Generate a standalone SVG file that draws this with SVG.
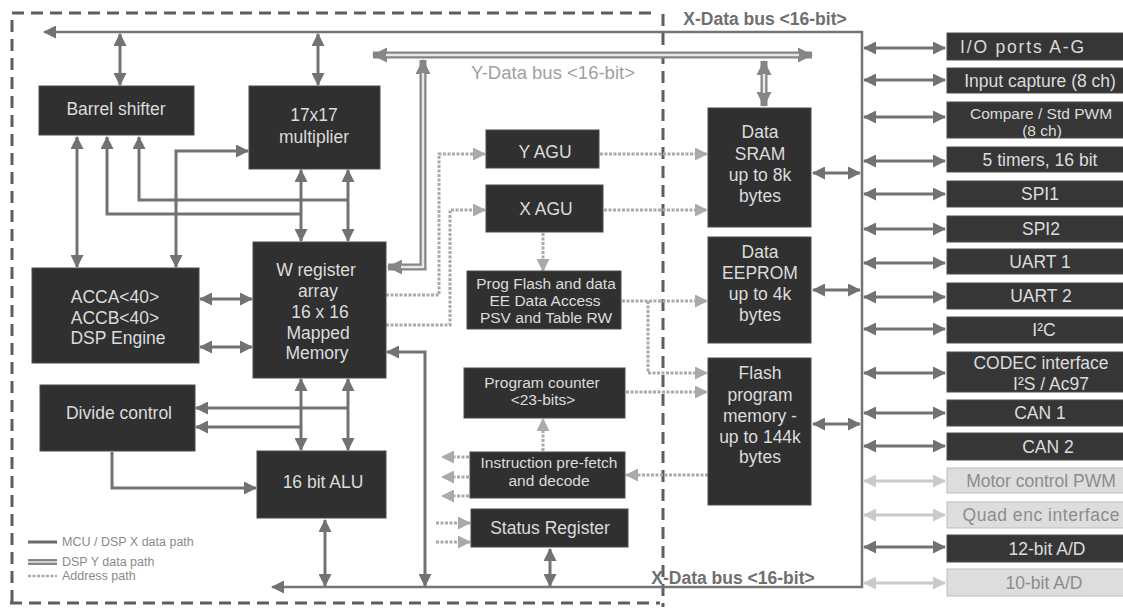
<svg xmlns="http://www.w3.org/2000/svg" width="1123" height="609" viewBox="0 0 1123 609">
<style>
text{font-family:"Liberation Sans",Arial,sans-serif;text-anchor:middle;dominant-baseline:central}
.box{fill:#303030;stroke:#4a4a4a;stroke-width:1}
.pbox{fill:#363636;stroke:#4a4a4a;stroke-width:1}
.fbox{fill:#dddddd;stroke:#bdbdbd;stroke-width:1}
.t{fill:#dcdcdc;font-size:17.5px}
.ts{fill:#dcdcdc;font-size:15.5px}
.tf{fill:#8c8c8c;font-size:17.5px}
.c{fill:none;stroke:#727272;stroke-width:3}
.bus{fill:none;stroke:#747474;stroke-width:2.5}
.ad{fill:none;stroke:#aaaaaa;stroke-width:3;stroke-dasharray:3 1.5}
.fa{fill:none;stroke:#cacaca;stroke-width:3}
.yo{fill:none;stroke:#868686;stroke-width:7}
.yi{fill:none;stroke:#e8e8e8;stroke-width:2.5}
.bd{fill:none;stroke:#5e5e5e;stroke-width:3;stroke-dasharray:12 7}
.lg{fill:#8a8a8a;font-size:12.5px;text-anchor:start}
</style>
<defs>
<marker id="a" viewBox="0 0 13 13" refX="12" refY="6.5" markerWidth="13" markerHeight="13" markerUnits="userSpaceOnUse" orient="auto-start-reverse"><path d="M0,0 L13,6.5 L0,13 z" fill="#727272"/></marker>
<marker id="d" viewBox="0 0 13 13" refX="12" refY="6.5" markerWidth="13" markerHeight="13" markerUnits="userSpaceOnUse" orient="auto-start-reverse"><path d="M0,0 L13,6.5 L0,13 z" fill="#aaaaaa"/></marker>
<marker id="f" viewBox="0 0 13 13" refX="12" refY="6.5" markerWidth="13" markerHeight="13" markerUnits="userSpaceOnUse" orient="auto-start-reverse"><path d="M0,0 L13,6.5 L0,13 z" fill="#cacaca"/></marker>
<marker id="y" viewBox="0 0 15 15" refX="14" refY="7.5" markerWidth="15" markerHeight="15" markerUnits="userSpaceOnUse" orient="auto-start-reverse"><path d="M0,0 L15,7.5 L0,15 z" fill="#868686"/></marker>
</defs>
<rect width="1123" height="609" fill="#ffffff"/>

<!-- dashed boundary -->
<g id="boundary">
<path class="bd" d="M12,602 V13 H656"/>
<path class="bd" d="M10,603 H660"/>
<path class="bd" d="M663,14 V607"/>
</g>

<!-- bus labels -->
<text x="765" y="19" style="fill:#6e6e6e;font-size:17.5px;font-weight:bold">X-Data bus &lt;16-bit&gt;</text>
<text x="553" y="72" style="fill:#a0a0a0;font-size:18.5px">Y-Data bus &lt;16-bit&gt;</text>
<text x="733" y="578" style="fill:#6e6e6e;font-size:17.5px;font-weight:bold">X-Data bus &lt;16-bit&gt;</text>

<g id="connectors">
<!-- X data bus -->
<path class="bus" d="M44,32 H862 V587 H272" marker-start="url(#a)" marker-end="url(#a)"/>
<!-- Y data bus -->
<path class="yo" d="M373,55 H812" marker-start="url(#y)" marker-end="url(#y)"/>
<path class="yi" d="M386,55 H799"/>
<path class="yo" d="M423,60 V267 H388" marker-start="url(#y)" marker-end="url(#y)"/>
<path class="yi" d="M423,73 V267 H401"/>
<path class="yo" d="M764,61 V106" marker-start="url(#y)" marker-end="url(#y)"/>
<path class="yi" d="M764,74 V93"/>
<!-- solid data paths -->
<path class="c" d="M120,34 V85" marker-start="url(#a)" marker-end="url(#a)"/>
<path class="c" d="M318,34 V85" marker-start="url(#a)" marker-end="url(#a)"/>
<path class="c" d="M77,137 V267" marker-start="url(#a)" marker-end="url(#a)"/>
<path class="c" d="M107,137 V214 H301" marker-start="url(#a)"/>
<path class="c" d="M139,137 V200 H348" marker-start="url(#a)"/>
<path class="c" d="M176,267 V151 H248" marker-start="url(#a)" marker-end="url(#a)"/>
<path class="c" d="M301,170 V241" marker-start="url(#a)" marker-end="url(#a)"/>
<path class="c" d="M348,170 V241" marker-start="url(#a)" marker-end="url(#a)"/>
<path class="c" d="M200,299 H252" marker-start="url(#a)" marker-end="url(#a)"/>
<path class="c" d="M200,347 H252" marker-start="url(#a)" marker-end="url(#a)"/>
<path class="c" d="M301,379 V450" marker-start="url(#a)" marker-end="url(#a)"/>
<path class="c" d="M348,379 V450" marker-start="url(#a)" marker-end="url(#a)"/>
<path class="c" d="M348,408 H196" marker-end="url(#a)"/>
<path class="c" d="M301,427 H196" marker-end="url(#a)"/>
<path class="c" d="M112,452 V488 H256" marker-end="url(#a)"/>
<path class="c" d="M325,520 V586" marker-start="url(#a)" marker-end="url(#a)"/>
<path class="c" d="M387,352 H425 V586" marker-start="url(#a)" marker-end="url(#a)"/>
<path class="c" d="M550,549 V586" marker-start="url(#a)" marker-end="url(#a)"/>
<path class="c" d="M813,173 H860" marker-start="url(#a)" marker-end="url(#a)"/>
<path class="c" d="M813,290 H860" marker-start="url(#a)" marker-end="url(#a)"/>
<path class="c" d="M813,424 H860" marker-start="url(#a)" marker-end="url(#a)"/>
<!-- address paths -->
<path class="ad" d="M386,295 H439 V154 H485" marker-end="url(#d)"/>
<path class="ad" d="M386,325 H450 V210 H485" marker-end="url(#d)"/>
<path class="ad" d="M600,154 H707" marker-end="url(#d)"/>
<path class="ad" d="M604,210 H707" marker-end="url(#d)"/>
<path class="ad" d="M543,233 V271" marker-end="url(#d)"/>
<path class="ad" d="M622,301 H707" marker-end="url(#d)"/>
<path class="ad" d="M648,301 V373 H707" marker-end="url(#d)"/>
<path class="ad" d="M626,392 H707" marker-end="url(#d)"/>
<path class="ad" d="M708,475 H626" marker-end="url(#d)"/>
<path class="ad" d="M543,451 V419" marker-end="url(#d)"/>
<path class="ad" d="M469,457 H442" marker-end="url(#d)"/>
<path class="ad" d="M469,477 H442" marker-end="url(#d)"/>
<path class="ad" d="M469,496 H442" marker-end="url(#d)"/>
<path class="ad" d="M436,523 H470" marker-end="url(#d)"/>
<path class="ad" d="M436,542 H470" marker-end="url(#d)"/>
<!-- peripheral links -->
<path class="c" d="M864,48 H945" marker-start="url(#a)" marker-end="url(#a)"/>
<path class="c" d="M864,80 H945" marker-start="url(#a)" marker-end="url(#a)"/>
<path class="c" d="M864,117 H945" marker-start="url(#a)" marker-end="url(#a)"/>
<path class="c" d="M864,161 H945" marker-start="url(#a)" marker-end="url(#a)"/>
<path class="c" d="M864,194 H945" marker-start="url(#a)" marker-end="url(#a)"/>
<path class="c" d="M864,229 H945" marker-start="url(#a)" marker-end="url(#a)"/>
<path class="c" d="M864,263 H945" marker-start="url(#a)" marker-end="url(#a)"/>
<path class="c" d="M864,297 H945" marker-start="url(#a)" marker-end="url(#a)"/>
<path class="c" d="M864,329 H945" marker-start="url(#a)" marker-end="url(#a)"/>
<path class="c" d="M864,373 H945" marker-start="url(#a)" marker-end="url(#a)"/>
<path class="c" d="M864,413 H945" marker-start="url(#a)" marker-end="url(#a)"/>
<path class="c" d="M864,446 H945" marker-start="url(#a)" marker-end="url(#a)"/>
<path class="fa" d="M864,481 H945" marker-start="url(#f)" marker-end="url(#f)"/>
<path class="fa" d="M864,515 H945" marker-start="url(#f)" marker-end="url(#f)"/>
<path class="c" d="M864,547 H945" marker-start="url(#a)" marker-end="url(#a)"/>
<path class="fa" d="M864,583 H945" marker-start="url(#f)" marker-end="url(#f)"/>
</g>

<!-- core blocks -->
<g id="barrel"><rect class="box" x="39" y="86" width="155" height="49"/><text class="t" x="116" y="109">Barrel shifter</text></g>
<g id="multiplier"><rect class="box" x="249" y="86" width="131" height="83"/><text class="t" x="314" y="115">17x17</text><text class="t" x="314" y="137">multiplier</text></g>
<g id="wreg"><rect class="box" x="253" y="242" width="133" height="136"/>
<text class="t" x="316" y="270">W register</text><text class="t" x="318" y="291">array</text><text class="t" x="320" y="312">16 x 16</text><text class="t" x="318" y="333">Mapped</text><text class="t" x="317" y="353">Memory</text></g>
<g id="acc"><rect class="box" x="32" y="268" width="167" height="95"/>
<text class="t" x="115" y="297">ACCA&lt;40&gt;</text><text class="t" x="115" y="318">ACCB&lt;40&gt;</text><text class="t" x="118" y="338">DSP Engine</text></g>
<g id="divide"><rect class="box" x="40" y="385" width="155" height="66"/><text class="t" x="119" y="413">Divide control</text></g>
<g id="alu"><rect class="box" x="257" y="451" width="129" height="67"/><text class="t" x="323" y="482">16 bit ALU</text></g>
<g id="yagu"><rect class="box" x="486" y="130" width="113" height="38"/><text class="t" x="545" y="152">Y AGU</text></g>
<g id="xagu"><rect class="box" x="486" y="185" width="117" height="47"/><text class="t" x="546" y="209">X AGU</text></g>
<g id="progflash"><rect class="box" x="467" y="271" width="154" height="58"/>
<text class="ts" x="546" y="283">Prog Flash and data</text><text class="ts" x="545" y="300">EE Data Access</text><text class="ts" x="546" y="317">PSV and Table RW</text></g>
<g id="pc"><rect class="box" x="464" y="368" width="161" height="50"/>
<text class="ts" x="542" y="382">Program counter</text><text class="ts" x="543" y="399">&lt;23-bits&gt;</text></g>
<g id="prefetch"><rect class="box" x="470" y="452" width="155" height="46"/>
<text class="ts" x="549" y="462">Instruction pre-fetch</text><text class="ts" x="549" y="480">and decode</text></g>
<g id="status"><rect class="box" x="471" y="509" width="157" height="38"/><text class="t" x="550" y="528">Status Register</text></g>
<g id="sram"><rect class="box" x="708" y="108" width="103" height="119"/>
<text class="t" x="760" y="132">Data</text><text class="t" x="760" y="154">SRAM</text><text class="t" x="760" y="175">up to 8k</text><text class="t" x="760" y="196">bytes</text></g>
<g id="eeprom"><rect class="box" x="708" y="237" width="103" height="106"/>
<text class="t" x="760" y="252">Data</text><text class="t" x="760" y="273">EEPROM</text><text class="t" x="760" y="294">up to 4k</text><text class="t" x="760" y="315">bytes</text></g>
<g id="flash"><rect class="box" x="708" y="358" width="103" height="147"/>
<text class="t" x="760" y="373">Flash</text><text class="t" x="760" y="395">program</text><text class="t" x="760" y="416">memory -</text><text class="t" x="760" y="437">up to 144k</text><text class="t" x="760" y="457">bytes</text></g>

<!-- peripherals -->
<g id="io"><rect class="pbox" x="947" y="33" width="180" height="27"/><text class="t" x="1022" y="46.5" textLength="124" lengthAdjust="spacing">I/O ports A-G</text></g>
<g id="icap"><rect class="pbox" x="947" y="68" width="180" height="25"/><text class="t" x="1040" y="80.5">Input capture (8 ch)</text></g>
<g id="cmp"><rect class="pbox" x="947" y="102" width="180" height="36"/><text class="ts" x="1041" y="113">Compare / Std PWM</text><text class="ts" x="1042" y="130">(8 ch)</text></g>
<g id="timers"><rect class="pbox" x="947" y="147" width="180" height="25"/><text class="t" x="1040" y="159.5">5 timers, 16 bit</text></g>
<g id="spi1"><rect class="pbox" x="947" y="181" width="180" height="26"/><text class="t" x="1040" y="194">SPI1</text></g>
<g id="spi2"><rect class="pbox" x="947" y="216" width="180" height="26"/><text class="t" x="1041" y="229">SPI2</text></g>
<g id="uart1"><rect class="pbox" x="947" y="249" width="180" height="25"/><text class="t" x="1040" y="261.5">UART 1</text></g>
<g id="uart2"><rect class="pbox" x="947" y="283" width="180" height="26"/><text class="t" x="1041" y="296">UART 2</text></g>
<g id="i2c"><rect class="pbox" x="947" y="317" width="180" height="26"/><text class="t" x="1044" y="330">I²C</text></g>
<g id="codec"><rect class="pbox" x="947" y="352" width="180" height="40"/><text class="t" x="1041" y="363">CODEC interface</text><text class="t" x="1051" y="384">I²S / Ac97</text></g>
<g id="can1"><rect class="pbox" x="947" y="400" width="180" height="26"/><text class="t" x="1040" y="413">CAN 1</text></g>
<g id="can2"><rect class="pbox" x="947" y="433" width="180" height="27"/><text class="t" x="1048" y="446.5">CAN 2</text></g>
<g id="motor"><rect class="fbox" x="947" y="468" width="180" height="25"/><text class="tf" x="1041" y="480.5">Motor control PWM</text></g>
<g id="quad"><rect class="fbox" x="947" y="502" width="180" height="26"/><text class="tf" x="1041" y="515" textLength="157" lengthAdjust="spacing">Quad enc interface</text></g>
<g id="ad12"><rect class="pbox" x="947" y="535" width="180" height="27"/><text class="t" x="1047" y="548.5">12-bit A/D</text></g>
<g id="ad10"><rect class="fbox" x="947" y="569" width="180" height="27"/><text class="tf" x="1044" y="582.5">10-bit A/D</text></g>

<!-- legend -->
<g id="legend">
<line x1="28" y1="542" x2="57" y2="542" stroke="#6a6a6a" stroke-width="3"/>
<line x1="28" y1="562" x2="57" y2="562" stroke="#868686" stroke-width="6"/>
<line x1="28" y1="562" x2="57" y2="562" stroke="#e8e8e8" stroke-width="1.5"/>
<line x1="28" y1="576" x2="57" y2="576" stroke="#aaaaaa" stroke-width="2.5" stroke-dasharray="3 1.5"/>
<text class="lg" x="62" y="542">MCU / DSP X data path</text>
<text class="lg" x="62" y="562">DSP Y data path</text>
<text class="lg" x="62" y="576">Address path</text>
</g>
</svg>
